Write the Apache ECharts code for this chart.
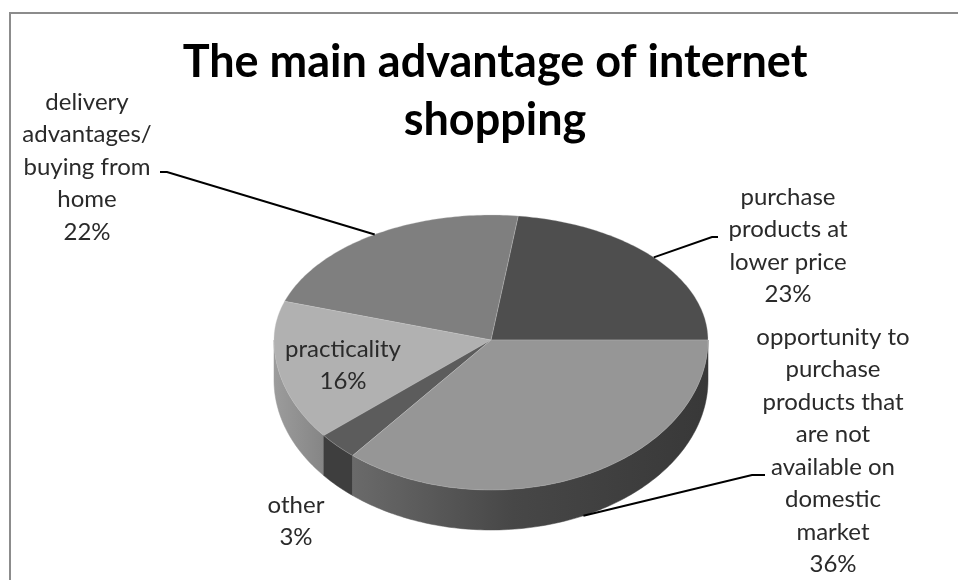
<!DOCTYPE html>
<html><head><meta charset="utf-8">
<script src="https://cdn.jsdelivr.net/npm/echarts@6/dist/echarts.min.js"></script>
<style>html,body{margin:0;padding:0;background:#fff}#c{width:958px;height:580px}</style>
</head><body><div id="c"></div>
<script>
// ---- data ----
const categories = [
  'purchase\nproducts at\nlower price',
  'delivery\nadvantages/\nbuying from\nhome',
  'practicality',
  'other',
  'opportunity to\npurchase\nproducts that\nare not\navailable on\ndomestic\nmarket'
];
const values = [23, 22, 16, 3, 36];
const titleText = 'The main advantage of internet\nshopping';

// ---- layout / style ----
const geo = {cx: 491, cy: 340, rx: 217, ryT: 125, ryB: 150, depth: 40};
const topColors = ['#4e4e4e', '#7f7f7f', '#b1b1b1', '#5c5c5c', '#969696'];
const sideColors = [
  '#3c3c3c',
  '#6a6a6a',
  new echarts.graphic.LinearGradient(0, 0, 1, 0, [{offset: 0, color: '#9c9c9c'}, {offset: 1, color: '#858585'}]),
  '#3e3e3e',
  new echarts.graphic.LinearGradient(0, 0, 1, 0, [{offset: 0, color: '#6a6a6a'}, {offset: 0.45, color: '#474747'}, {offset: 1, color: '#383838'}])
];
// label block: center x, top y ; leader: elbow + end (null = no leader)
const labelLayout = [
  {x: 788, y: 181, anchorDepth: 0, leader: [[712, 237], [718, 237]]},
  {x: 87, y: 86, anchorDepth: 0, leader: [[167, 172], [160, 172]]},
  {x: 343, y: 333, leader: null},
  {x: 296, y: 489, leader: null},
  {x: 833, y: 321, anchorDepth: 40, leader: [[752, 475], [765, 475]]}
];

const total = values.reduce((a, b) => a + b, 0);
const starts = [];
let acc = 0;
values.forEach(v => { starts.push(acc / total * 360); acc += v; });

function proj(deg, h) {
  const r = deg * Math.PI / 180;
  const s = Math.sin(r);
  return [geo.cx + geo.rx * Math.cos(r), geo.cy - (s >= 0 ? geo.ryT : geo.ryB) * s + h];
}
function arcPts(a0, a1, h) {
  const pts = [];
  const n = Math.max(2, Math.ceil(Math.abs(a1 - a0)));
  for (let i = 0; i <= n; i++) pts.push(proj(a0 + (a1 - a0) * i / n, h));
  return pts;
}

const chart = echarts.init(document.getElementById('c'));
chart.setOption({
  animation: false,
  backgroundColor: '#fff',
  title: {
    text: titleText, left: 490, top: 28, textAlign: 'center',
    textStyle: {fontFamily: 'Lato', fontWeight: 'bold', fontSize: 45, lineHeight: 58, color: '#000'}
  },
  graphic: [{
    type: 'rect', shape: {x: 10, y: 13, width: 1200, height: 1200},
    style: {fill: null, stroke: '#8c8c8c', lineWidth: 2}, silent: true
  }],
  series: [{
    type: 'custom',
    coordinateSystem: 'none',
    data: values,
    renderItem: function (params, api) {
      const i = params.dataIndex;
      const v = api.value(0);
      const a0 = starts[i];
      const a1 = a0 + v / total * 360;
      const children = [];
      // side (front half only)
      const s0 = Math.max(a0, 180), s1 = Math.min(a1, 360);
      if (s1 > s0) {
        const topArc = arcPts(s0, s1, 0);
        const botArc = arcPts(s1, s0, geo.depth);
        children.push({type: 'polygon', shape: {points: topArc.concat(botArc)},
          style: {fill: sideColors[i], stroke: sideColors[i], lineWidth: 0.5}});
      }
      // top face
      const face = [[geo.cx, geo.cy]].concat(arcPts(a0, a1, 0));
      children.push({type: 'polygon', shape: {points: face},
        style: {fill: topColors[i], stroke: 'rgba(200,200,200,0.5)', lineWidth: 0.6}});
      const L = labelLayout[i];
      if (L.leader) {
        const anchor = proj((a0 + a1) / 2, L.anchorDepth);
        children.push({type: 'polyline', shape: {points: [anchor].concat(L.leader)},
          style: {stroke: '#000', lineWidth: 2, fill: null}, z2: 10});
      }
      children.push({type: 'text', x: L.x, y: L.y, z2: 20,
        style: {text: categories[i] + '\n' + v + '%', align: 'center', verticalAlign: 'top',
          font: '24px Lato', lineHeight: 32.5, fill: '#2a2a2a'}});
      return {type: 'group', children: children};
    }
  }]
});
</script>
</body></html>
